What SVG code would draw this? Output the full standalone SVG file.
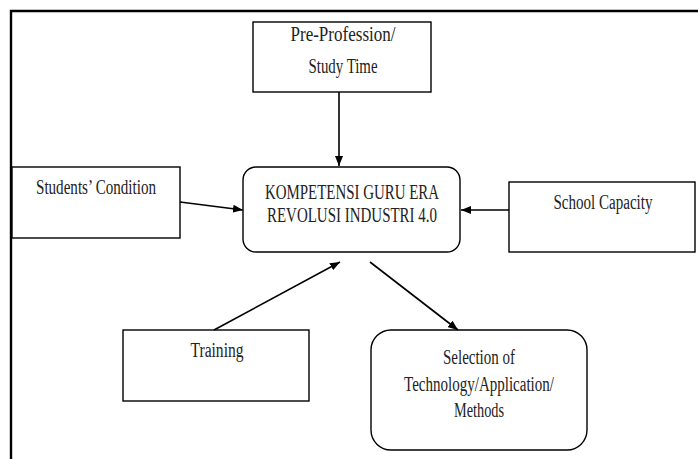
<svg xmlns="http://www.w3.org/2000/svg" width="698" height="459" viewBox="0 0 698 459">
<defs>
<style>
.box{fill:#fff;stroke:#000;stroke-width:1.4}
.t{font-family:"Liberation Serif","Times New Roman",serif;font-size:20px;fill:#222;text-anchor:middle}
.c{stroke:#000;stroke-width:1.6;fill:none;marker-end:url(#ah)}
</style>
<marker id="ah" viewBox="0 0 10 8" refX="10" refY="4" markerWidth="10" markerHeight="8" markerUnits="userSpaceOnUse" orient="auto">
<path d="M0,0 L10,4 L0,8 Z" fill="#000"/>
</marker>
</defs>
<rect width="698" height="459" fill="#fff"/>
<path d="M11,459 V11 H698" fill="none" stroke="#000" stroke-width="2.4"/>
<g id="pre">
<rect class="box" x="253" y="22" width="178" height="70"/>
<text class="t" x="343" y="41" textLength="105" lengthAdjust="spacingAndGlyphs">Pre-Profession/</text>
<text class="t" x="343" y="73" textLength="69" lengthAdjust="spacingAndGlyphs">Study Time</text>
</g>
<g id="center">
<rect class="box" x="243" y="167" width="217" height="85" rx="13"/>
<text class="t" x="352" y="199" textLength="174" lengthAdjust="spacingAndGlyphs">KOMPETENSI GURU ERA</text>
<text class="t" x="352" y="222" textLength="170" lengthAdjust="spacingAndGlyphs">REVOLUSI INDUSTRI 4.0</text>
</g>
<g id="students">
<rect class="box" x="12" y="167" width="168" height="71"/>
<text class="t" x="96" y="194" textLength="120" lengthAdjust="spacingAndGlyphs">Students’ Condition</text>
</g>
<g id="school">
<rect class="box" x="509" y="182" width="186" height="70"/>
<text class="t" x="603" y="209" textLength="99" lengthAdjust="spacingAndGlyphs">School Capacity</text>
</g>
<g id="training">
<rect class="box" x="123" y="330" width="186" height="71"/>
<text class="t" x="217" y="357" textLength="53" lengthAdjust="spacingAndGlyphs">Training</text>
</g>
<g id="selection">
<rect class="box" x="371" y="330" width="216" height="120" rx="20"/>
<text class="t" x="479" y="364" textLength="72" lengthAdjust="spacingAndGlyphs">Selection of</text>
<text class="t" x="479" y="391" textLength="150" lengthAdjust="spacingAndGlyphs">Technology/Application/</text>
<text class="t" x="479" y="417" textLength="50" lengthAdjust="spacingAndGlyphs">Methods</text>
</g>
<g id="connectors">
<line class="c" x1="339" y1="92" x2="339" y2="166"/>
<line class="c" x1="180" y1="202" x2="243" y2="210"/>
<line class="c" x1="509" y1="210" x2="461" y2="210"/>
<line class="c" x1="214" y1="330" x2="340" y2="262"/>
<line class="c" x1="370" y1="262" x2="458" y2="330"/>
</g>
</svg>
